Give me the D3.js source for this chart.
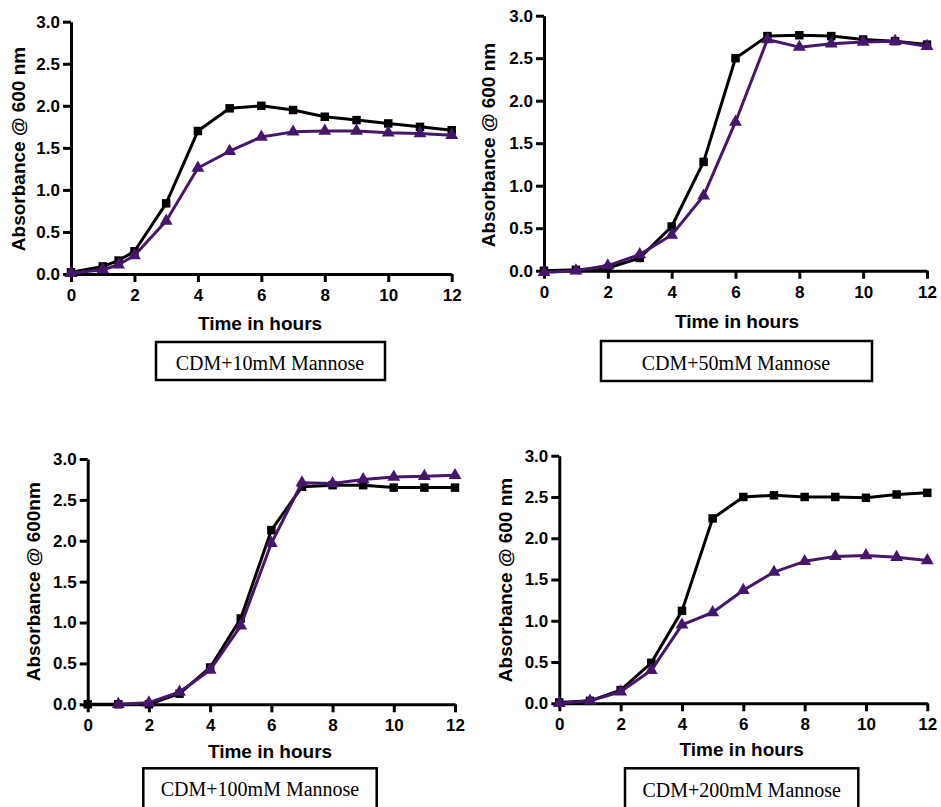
<!DOCTYPE html>
<html><head><meta charset="utf-8">
<script src="https://cdn.jsdelivr.net/npm/d3@7"></script>
<style>
body{margin:0;background:#fff;}
svg{display:block;}
</style></head>
<body>
<script>
// ---- data ----
const yTicks = [0, 0.5, 1.0, 1.5, 2.0, 2.5, 3.0];
const xTicks = [0, 2, 4, 6, 8, 10, 12];

const time10 = [0, 1, 1.5, 2, 3, 4, 5, 6, 7, 8, 9, 10, 11, 12];
const black10 = [0.02, 0.09, 0.16, 0.27, 0.84, 1.70, 1.97, 2.00, 1.95, 1.87, 1.83, 1.79, 1.75, 1.71];
const purple10 = [0.01, 0.05, 0.11, 0.22, 0.63, 1.26, 1.46, 1.63, 1.69, 1.70, 1.70, 1.68, 1.67, 1.65];

const time50 = [0, 1, 2, 3, 4, 5, 6, 7, 8, 9, 10, 11, 12];
const black50 = [0.00, 0.01, 0.03, 0.15, 0.52, 1.28, 2.50, 2.76, 2.77, 2.76, 2.72, 2.70, 2.66];
const purple50 = [-0.02, 0.00, 0.06, 0.19, 0.42, 0.88, 1.75, 2.72, 2.63, 2.67, 2.69, 2.70, 2.64];

const time100Black = [0, 1, 2, 3, 4, 5, 6, 7, 8, 9, 10, 11, 12];
const black100 = [0.00, 0.00, 0.00, 0.13, 0.45, 1.05, 2.13, 2.66, 2.68, 2.68, 2.65, 2.65, 2.65];
const time100Purple = [1, 2, 3, 4, 5, 6, 7, 8, 9, 10, 11, 12];
const purple100 = [0.00, 0.02, 0.15, 0.42, 0.96, 1.97, 2.71, 2.70, 2.75, 2.78, 2.79, 2.80];

const time200 = [0, 1, 2, 3, 4, 5, 6, 7, 8, 9, 10, 11, 12];
const black200 = [0.01, 0.03, 0.16, 0.49, 1.12, 2.24, 2.50, 2.52, 2.50, 2.50, 2.49, 2.53, 2.55];
const purple200 = [0.00, 0.03, 0.14, 0.40, 0.95, 1.10, 1.37, 1.59, 1.72, 1.78, 1.79, 1.77, 1.73];

const titles = ["CDM+10mM Mannose", "CDM+50mM Mannose", "CDM+100mM Mannose", "CDM+200mM Mannose"];
const yLabels = ["Absorbance @ 600 nm", "Absorbance @ 600 nm", "Absorbance @ 600nm", "Absorbance @ 600 nm"];
const xLabel = "Time in hours";

// ---- layout ----
const W = 941, H = 807;
const BLACK = "#000000", PURPLE = "#46166a";
const panels = [
  {x0:71, x1:451.7, y0:274, y1:21.7, ylx:18.5, yly:149, xlx:260, xly:323, box:[156,342,229,38], tx:270, ty:363,
   bt:time10, b:black10, pt:time10, p:purple10},
  {x0:544, x1:927, y0:270.7, y1:15.7, ylx:488, yly:145, xlx:737, xly:321, box:[601,341,271,40], tx:736, ty:362.7,
   bt:time50, b:black50, pt:time50, p:purple50},
  {x0:87.7, x1:455, y0:704.3, y1:459, ylx:33.5, yly:581.7, xlx:270, xly:751.7, box:[143.3,768.3,233.4,50], tx:260, ty:789.3,
   bt:time100Black, b:black100, pt:time100Purple, p:purple100},
  {x0:559.3, x1:927.3, y0:703.3, y1:455.7, ylx:505, yly:580, xlx:741.7, xly:749.3, box:[625,768.3,233.3,50], tx:741.7, ty:790,
   bt:time200, b:black200, pt:time200, p:purple200}
];

const svg = d3.select("body").append("svg").attr("width", W).attr("height", H);

const sans = "'Liberation Sans', Arial, sans-serif";
const serif = "'Liberation Serif', 'Times New Roman', serif";

panels.forEach((pn, i) => {
  const x = d3.scaleLinear().domain([0, 12]).range([pn.x0, pn.x1]);
  const y = d3.scaleLinear().domain([0, 3]).range([pn.y0, pn.y1]);
  const g = svg.append("g");

  // axes
  const ya = g.append("g").attr("transform", `translate(${pn.x0},0)`)
    .call(d3.axisLeft(y).tickValues(yTicks).tickFormat(d3.format(".1f")).tickSize(8).tickSizeOuter(0).tickPadding(3));
  const xa = g.append("g").attr("transform", `translate(0,${pn.y0})`)
    .call(d3.axisBottom(x).tickValues(xTicks).tickFormat(d3.format("d")).tickSize(8).tickSizeOuter(0).tickPadding(7));
  [ya, xa].forEach(a => {
    a.select(".domain").attr("stroke", "#000").attr("stroke-width", 3);
    a.selectAll(".tick line").attr("stroke", "#000").attr("stroke-width", 3);
    a.selectAll(".tick text").attr("fill", "#000").style("font-family", sans)
      .style("font-weight", "bold").style("font-size", "17px");
  });

  // series
  const line = (xs, ys) => d3.line().x((d, k) => x(xs[k])).y(d => y(d))(ys);
  const drawSeries = (xs, ys, color, shape) => {
    g.append("path").attr("d", line(xs, ys)).attr("fill", "none")
      .attr("stroke", color).attr("stroke-width", 3).attr("stroke-linejoin", "round");
    const sym = d3.symbol().type(shape).size(shape === d3.symbolSquare ? 72 : 72);
    g.selectAll(null).data(ys).enter().append("path")
      .attr("d", sym)
      .attr("transform", (d, k) => `translate(${x(xs[k])},${y(d)})`)
      .attr("fill", color);
  };
  drawSeries(pn.bt, pn.b, BLACK, d3.symbolSquare);
  drawSeries(pn.pt, pn.p, PURPLE, d3.symbolTriangle);

  // axis titles
  g.append("text").attr("transform", `translate(${pn.ylx},${pn.yly}) rotate(-90)`)
    .attr("text-anchor", "middle").attr("dy", "0.35em")
    .style("font-family", sans).style("font-weight", "bold").style("font-size", "19px")
    .text(yLabels[i]);
  g.append("text").attr("x", pn.xlx).attr("y", pn.xly).attr("dy", "0.35em")
    .attr("text-anchor", "middle")
    .style("font-family", sans).style("font-weight", "bold").style("font-size", "19px")
    .text(xLabel);

  // title box
  g.append("rect").attr("x", pn.box[0]).attr("y", pn.box[1]).attr("width", pn.box[2]).attr("height", pn.box[3])
    .attr("fill", "#fff").attr("stroke", "#000").attr("stroke-width", 2.5);
  g.append("text").attr("x", pn.tx).attr("y", pn.ty).attr("dy", "0.35em")
    .attr("text-anchor", "middle")
    .style("font-family", serif).style("font-size", "20px")
    .text(titles[i]);
});
</script>
</body></html>
